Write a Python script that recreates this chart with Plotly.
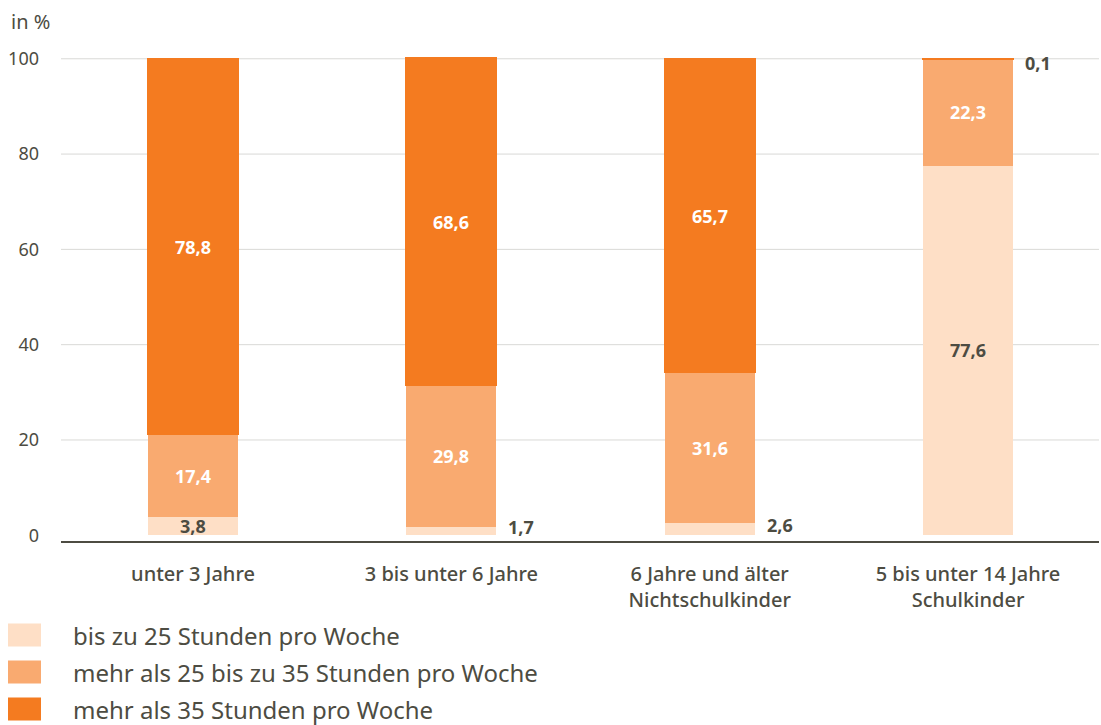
import plotly.graph_objects as go

categories = ["unter 3 Jahre", "3 bis unter 6 Jahre", "6 Jahre und älter<br>Nichtschulkinder", "5 bis unter 14 Jahre<br>Schulkinder"]
series_names = ["bis zu 25 Stunden pro Woche", "mehr als 25 bis zu 35 Stunden pro Woche", "mehr als 35 Stunden pro Woche"]
bis25 = [3.8, 1.7, 2.6, 77.6]
von25bis35 = [17.4, 29.8, 31.6, 22.3]
ueber35 = [78.8, 68.6, 65.7, 0.1]
y_ticks = [0, 20, 40, 60, 80, 100]

colors = ["#FEDFC6", "#F9AA70", "#F47B20"]
text_dark = "#4D4C42"
FONT = "Noto Sans"

W, H = 1101, 725
ML, MR, MT, MB = 61, 2, 54, 184
PW, PH = W - ML - MR, H - MT - MB

def px_x(px):
    return (px - ML) / PW

def px_y(py):
    return (H - MB - py) / PH

fig = go.Figure()
series = [bis25, von25bis35, ueber35]
for i, (name, vals) in enumerate(zip(series_names, series)):
    fig.add_trace(go.Bar(
        x=list(range(len(categories))), y=vals, name=name,
        marker=dict(color=colors[i], line=dict(width=2 if i == 2 else 0, color=colors[i])),
        width=0.348, showlegend=False, hoverinfo="skip"))

# data labels
annotations = []
for ci in range(len(categories)):
    base = 0
    for si, vals in enumerate(series):
        v = vals[ci]
        mid = base + v / 2
        base += v
        txt = f"{v:.1f}".replace(".", ",")
        if v < 3:
            annotations.append(dict(x=ci, y=mid, xref="x", yref="y", text=f"<b>{txt}</b>",
                                    showarrow=False, xanchor="left", xshift=55,
                                    yshift=4 if si == 0 else -4,
                                    font=dict(family=FONT, size=18, color=text_dark)))
        else:
            col = text_dark if si == 0 else "white"
            annotations.append(dict(x=ci, y=mid, xref="x", yref="y", text=f"<b>{txt}</b>",
                                    showarrow=False, xanchor="center",
                                    font=dict(family=FONT, size=18, color=col)))

annotations.append(dict(x=px_x(9), y=px_y(22), xref="paper", yref="paper", text="in %",
                        showarrow=False, xanchor="left", yanchor="middle",
                        font=dict(family=FONT, size=20, color=text_dark)))

shapes = []
for t in y_ticks[1:]:
    shapes.append(dict(type="line", xref="paper", yref="y", x0=0, x1=1, y0=t, y1=t,
                       line=dict(color="#D9D9D6", width=1), layer="below"))

# legend
for i, name in enumerate(series_names):
    cy = 635 + 37 * i
    shapes.append(dict(type="rect", xref="paper", yref="paper",
                       x0=px_x(8), x1=px_x(41), y0=px_y(cy - 11.5), y1=px_y(cy + 11.5),
                       fillcolor=colors[i], line=dict(width=0)))
    annotations.append(dict(x=px_x(71), y=px_y(cy), xref="paper", yref="paper", text=name,
                            showarrow=False, xanchor="left", yanchor="middle",
                            font=dict(family=FONT, size=24, color=text_dark)))

fig.update_layout(
    barmode="stack",
    width=W, height=H,
    margin=dict(l=ML, r=MR, t=MT, b=MB, autoexpand=False),
    plot_bgcolor="white", paper_bgcolor="white",
    annotations=annotations, shapes=shapes,
    font=dict(family=FONT, color=text_dark),
    xaxis=dict(range=[-0.511, 3.507], tickvals=list(range(len(categories))), ticktext=categories,
               showgrid=False, zeroline=False, showline=True, linecolor=text_dark, linewidth=2,
               ticks="", ticklabelstandoff=14,
               tickfont=dict(family=FONT, size=20, color=text_dark, weight=500)),
    yaxis=dict(range=[-1.2, 101], tickvals=y_ticks, showgrid=False, zeroline=False,
               showline=False, ticks="", ticklabelstandoff=21,
               tickfont=dict(family=FONT, size=18, color=text_dark)),
)

fig.write_html("out.html", config={"displayModeBar": False},
               post_script="document.body.style.margin='0px';")
